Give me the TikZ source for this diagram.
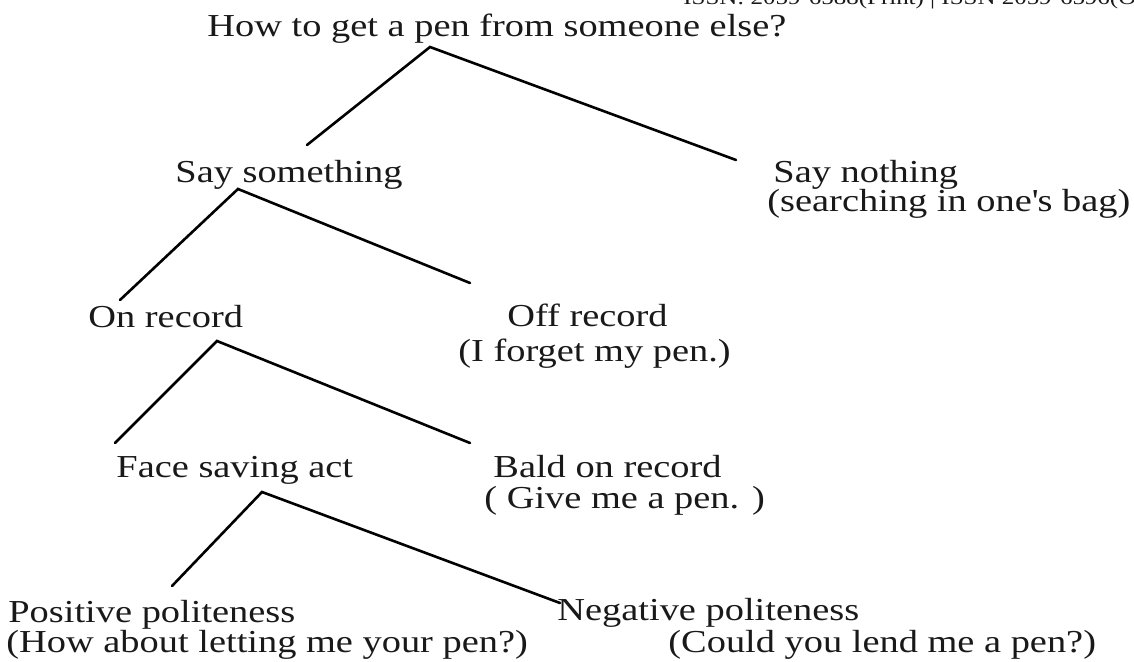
\documentclass[tikz,border=0pt]{standalone}
\usepackage{fontspec}
\setmainfont{Liberation Serif}[FakeStretch=1.2]
\usetikzlibrary{calc}
\definecolor{ink}{rgb}{0.1, 0.1, 0.1}
\tikzset{lbl/.style = {anchor=base west, inner sep=0, text=ink,
                       font=\fontsize{16}{16}\selectfont}}
\tikzset{branch/.style = {line width=1.3pt, line cap=round}}

\begin{document}
\begin{tikzpicture}[x=0.5pt, y=-0.5pt]
    \useasboundingbox (0, 0) rectangle (1134, 662);

    % running head of the page, cut off at the top
    \node [lbl, font=\fontsize{10.4}{12}\selectfont] (issn) at (683, 5) {ISSN: 2059-6588(Print) | ISSN 2059-6596(Online)};

    \node [lbl] (question) at (207, 37) {How to get a pen from someone else?};

    \node [lbl] (saysth) at (175, 183) {Say something};
    \node [lbl] (saynot) at (773, 183) {Say nothing};
    \node [lbl] (saynotex) at (767, 212) {(searching in one\textquotesingle s bag)};

    \node [lbl] (onrec) at (88, 328) {On record};
    \node [lbl] (offrec) at (507, 327) {Off record};
    \node [lbl] (offrecex) at (458, 362) {(I forget my pen.)};

    \node [lbl] (face) at (116, 477) {Face saving act};
    \node [lbl] (bald) at (493, 477) {Bald on record};
    \node [lbl] (baldex) at (484, 508) {( Give me a pen. )};

    \node [lbl] (pos) at (8, 622) {Positive politeness};
    \node [lbl] (posex) at (6, 652) {(How about letting me your pen?)};
    \node [lbl] (neg) at (557, 620) {Negative politeness};
    \node [lbl] (negex) at (668, 652) {(Could you lend me a pen?)};

    \draw [branch] ($(saysth.base west)+(132, -38)$) -- ($(question.base west)+(223, 10)$) -- ($(saynot.base west)+(-37, -23)$);

    \draw [branch] ($(onrec.base west)+(32, -28)$) -- ($(saysth.base west)+(63, 6)$) -- ($(offrec.base west)+(-37, -44)$);

    \draw [branch] ($(face.base west)+(-1, -34)$) -- ($(onrec.base west)+(129, 13)$) -- ($(bald.base west)+(-23, -34)$);

    \draw [branch] ($(pos.base west)+(164, -36)$) -- ($(face.base west)+(146, 15)$) -- ($(neg.base west)+(3, -17)$);
\end{tikzpicture}
\end{document}
